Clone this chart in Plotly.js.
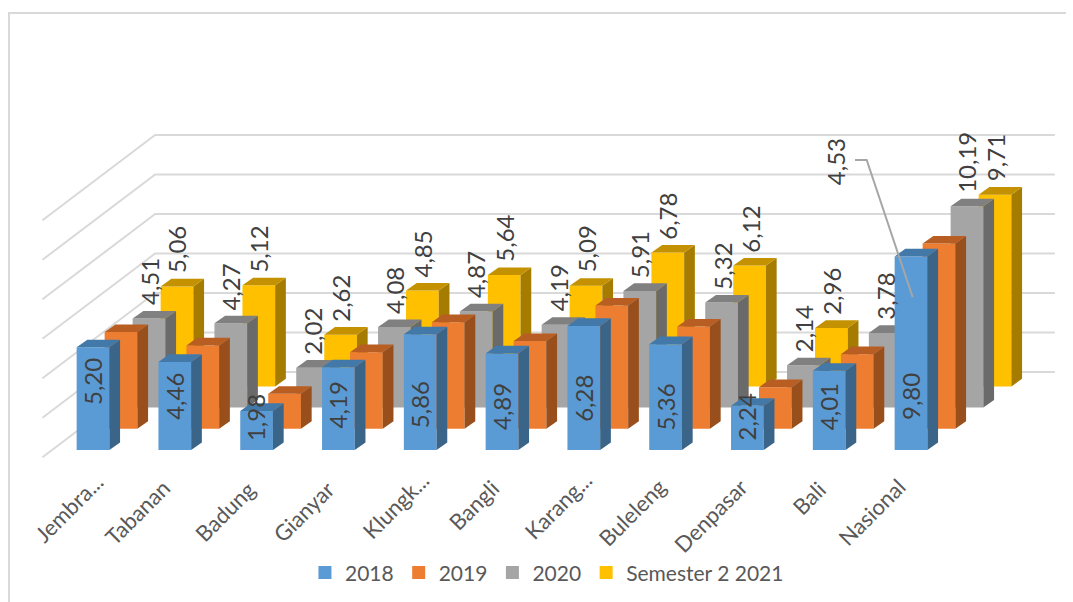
<!DOCTYPE html>
<html><head><meta charset="utf-8">
<script src="https://cdn.plot.ly/plotly-3.0.1.min.js"></script>
<style>html,body{margin:0;padding:0;background:#fff}</style></head>
<body><div id="chart" style="width:1073px;height:602px"></div>
<script>
// ---- data ----
const categories = ["Jembra...","Tabanan","Badung","Gianyar","Klungk...","Bangli","Karang...","Buleleng","Denpasar","Bali","Nasional"];
const values2018 = [5.20,4.46,1.98,4.19,5.86,4.89,6.28,5.36,2.24,4.01,9.80];
const values2019 = [4.90,4.22,1.77,3.88,5.40,4.44,6.24,5.18,2.11,3.78,9.38];
const values2020 = [4.51,4.27,2.02,4.08,4.87,4.19,5.91,5.32,2.14,3.78,10.19];
const values2021 = [5.06,5.12,2.62,4.85,5.64,5.09,6.78,6.12,2.96,4.53,9.71];
const seriesNames = ["2018","2019","2020","Semester 2 2021"];
const gridValues = [0,2,4,6,8,10,12];

// ---- geometry (px) ----
const W=1073,H=602, X0=93, Y0=450, CAT=81.8, VAL=19.75, SHX=28, SHY=21.2;
const BW=0.4, SIDE_X=10.7/CAT, SIDE_Y=7.6/VAL;
const faces = [
 {front:"#5B9BD5",side:"#3A6589",top:"#4279A8"},
 {front:"#ED7D31",side:"#984F1C",top:"#B85E22"},
 {front:"#A5A5A5",side:"#6A6A6A",top:"#808080"},
 {front:"#FFC000",side:"#A67C00",top:"#C49200"}];
const series=[values2018,values2019,values2020,values2021];
const blueLift=[68,54,32.5,45,45,43,52,43,33,43,53];
const catDx=[-25,-38,-32,-35,-25,-29,-26,-34,-37,-21,-40];
const catY=[508,512,511,511,505,505,505,512,515,498,512];

const xr=k=>[(0-X0-SHX*k)/CAT,(W-X0-SHX*k)/CAT];
const yr=k=>[(Y0-SHY*k-H)/VAL,(Y0-SHY*k)/VAL];
const idx=categories.map((_,i)=>i);
const traces=[];
// subplot ids: main xy holds the walls, then back-to-front series
const axisId=k=>4-(k+1)+2; // k=3->2, k=0->5
const layout={width:W,height:H,margin:{l:0,r:0,t:0,b:0},paper_bgcolor:"#fff",plot_bgcolor:"rgba(0,0,0,0)",
 showlegend:true,
 legend:{orientation:"h",x:0.2842,y:0.0485,xanchor:"left",yanchor:"middle",font:{family:"Lato",size:21,color:"#595959"},
   itemwidth:30,traceorder:"normal",bgcolor:"rgba(0,0,0,0)"},
 xaxis:{range:xr(0),visible:false,fixedrange:true},
 yaxis:{range:yr(0),visible:false,fixedrange:true},
 annotations:[],shapes:[]};
for(let k=3;k>=0;k--){const n=axisId(k);
 layout["xaxis"+n]={range:xr(k),visible:false,overlaying:"x",fixedrange:true};
 layout["yaxis"+n]={range:yr(k),visible:false,overlaying:"y",fixedrange:true};
}
// walls
const DB=(Y0-372)/SHY, DF=(Y0-457.3)/SHY;
const wx=[],wy=[];
const px=(xv,d)=>xv+d*SHX/CAT, py=(v,d)=>v+d*SHY/VAL;
gridValues.forEach(v=>{wx.push(px(-0.5,DF),px(-0.5,DB),px(10.5,DB),null);wy.push(py(v,DF),py(v,DB),py(v,DB),null);});
traces.push({type:"scatter",mode:"lines",x:wx,y:wy,line:{color:"#D9D9D9",width:2},showlegend:false,hoverinfo:"skip",xaxis:"x",yaxis:"y"});
// series back to front
for(let k=3;k>=0;k--){const n=axisId(k),v=series[k],xa="x"+n,ya="y"+n,f=faces[k];
 traces.push({type:"bar",name:seriesNames[k],x:idx,y:v,width:BW,marker:{color:f.front,line:{width:0}},showlegend:false,xaxis:xa,yaxis:ya,hoverinfo:"y"});
 const sx=[],sy=[],tx=[],ty=[];
 v.forEach((val,i)=>{const l=i-BW/2,r=i+BW/2;
  sx.push(r,r+SIDE_X,r+SIDE_X,r,r,null);sy.push(0,SIDE_Y,val+SIDE_Y,val,0,null);
  tx.push(l,l+SIDE_X,r+SIDE_X,r,l,null);ty.push(val,val+SIDE_Y,val+SIDE_Y,val,val,null);});
 traces.push({type:"scatter",mode:"lines",fill:"toself",x:sx,y:sy,line:{width:0,color:f.side},fillcolor:f.side,showlegend:false,hoverinfo:"skip",xaxis:xa,yaxis:ya});
 traces.push({type:"scatter",mode:"lines",fill:"toself",x:tx,y:ty,line:{width:0,color:f.top},fillcolor:f.top,showlegend:false,hoverinfo:"skip",xaxis:xa,yaxis:ya});
}
// legend entries
seriesNames.forEach((name,k)=>{traces.push({type:"scatter",mode:"markers",name:name,x:[null],y:[null],marker:{symbol:"square",size:13,color:faces[k].front},xaxis:"x",yaxis:"y",hoverinfo:"skip"});});

// data labels
const lblFont={family:"Lato",size:24,color:"#404040"};
const fmt=v=>v.toFixed(2).replace(".",",");
values2018.forEach((v,i)=>layout.annotations.push({xref:"x5",yref:"y5",x:i,y:0,yshift:blueLift[i],xshift:-1,text:fmt(v),textangle:-90,showarrow:false,font:lblFont,xanchor:"center",yanchor:"middle"}));
[[values2020,2],[values2021,3]].forEach(([arr,k])=>arr.forEach((v,i)=>{
 const n=axisId(k);
 const a={xref:"x"+n,yref:"y"+n,x:i,y:v,xshift:0,yshift:11,text:fmt(v),textangle:-90,showarrow:false,font:lblFont,xanchor:"center",yanchor:"bottom"};
 if(k===3&&i===9){a.xshift=835.7-(X0+CAT*9+SHX*3);a.yshift=(Y0-SHY*3-VAL*v)-187;}
 layout.annotations.push(a);
}));
// leader line for the Bali 2021 label
const n3=axisId(3), lx=p=>(p-X0-SHX*3)/CAT, ly=p=>(Y0-SHY*3-p)/VAL;
layout.shapes.push({type:"path",xref:"x"+n3,yref:"y"+n3,layer:"above",
 path:`M ${lx(855)} ${ly(160)} L ${lx(866.7)} ${ly(160)} L ${lx(912.7)} ${ly(297.3)}`,line:{color:"#A6A6A6",width:2}});
// category labels
categories.forEach((c,i)=>layout.annotations.push({xref:"x5",yref:"paper",x:i,y:1-catY[i]/H,xshift:catDx[i],text:c,textangle:-45,showarrow:false,font:{family:"Lato",size:22,color:"#595959"},xanchor:"center",yanchor:"middle"}));
// frame
layout.shapes.push({type:"line",xref:"paper",yref:"paper",x0:9/W,x1:9/W,y0:0,y1:1-13/H,line:{color:"#D9D9D9",width:2}});
layout.shapes.push({type:"line",xref:"paper",yref:"paper",x0:8/W,x1:1066/W,y0:1-13/H,y1:1-13/H,line:{color:"#D9D9D9",width:2}});
Plotly.newPlot("chart",traces,layout,{staticPlot:true,displayModeBar:false});
</script></body></html>
